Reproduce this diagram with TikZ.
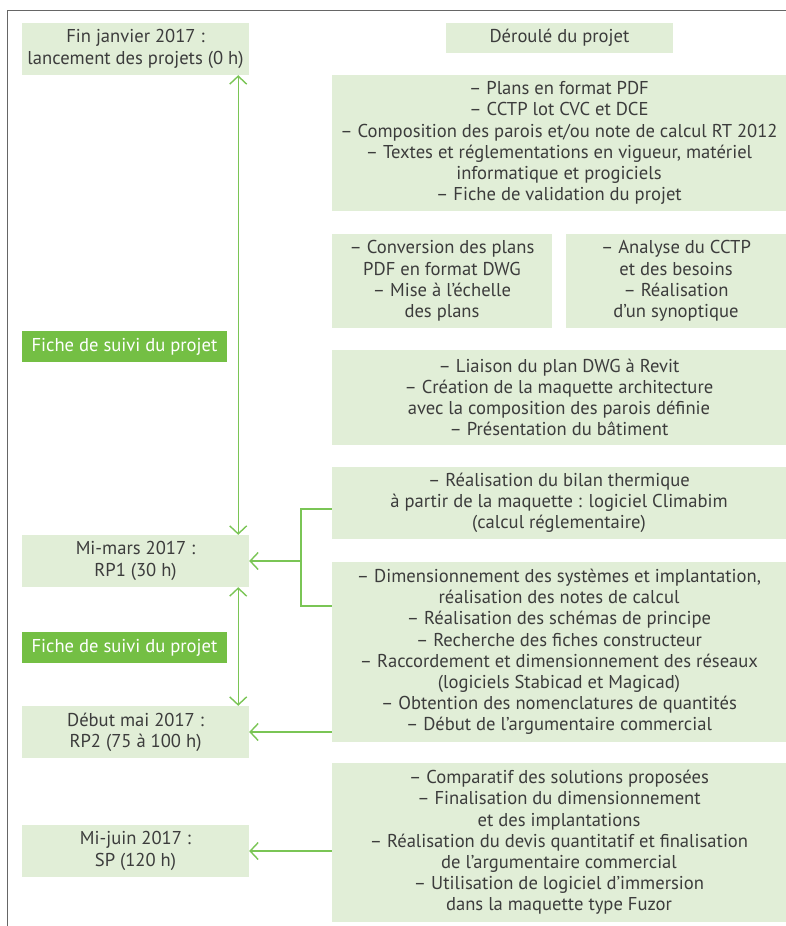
\documentclass[tikz,border=0pt]{standalone}
\usepackage{fontspec}
\setmainfont{PT Sans}
\usepackage{tikz}
\usetikzlibrary{arrows.meta,positioning,calc}
\definecolor{paleg}{HTML}{E1EED7}
\definecolor{leafg}{HTML}{74BF44}
\definecolor{lineg}{HTML}{7AC555}
\definecolor{inkg}{HTML}{3C3C3C}

\begin{document}
\begin{tikzpicture}[x=1pt,y=-1pt,font=\fontsize{18.6}{21.2}\selectfont,text=inkg,
  phase/.style={fill=paleg,inner sep=0pt,minimum width=227pt,minimum height=52pt,align=center},
  fiche/.style={fill=leafg,text=white,inner sep=0pt,minimum width=205pt,minimum height=31pt},
  task/.style={fill=paleg,inner sep=0pt,minimum width=454pt,align=center},
  ln/.style={draw=lineg,line width=1.4pt},
  arr/.style={ln,-{Straight Barb[length=8pt,width=17pt]}},
  both/.style={ln,{Straight Barb[length=8pt,width=17pt]}-{Straight Barb[length=8pt,width=17pt]}}]
\useasboundingbox (0,0) rectangle (786,926);
\draw[gray!80!black,line width=0.9pt] (786,10) -| (7,926);
% jalons
\node[phase] (jan) at (135.5,49) {Fin janvier 2017 :\\lancement des projets (0 h)};
\node[fiche] (suivi1) at (124.5,346.5) {Fiche de suivi du projet};
\node[phase] (mars) at (135.5,561) {Mi-mars 2017 :\\RP1 (30 h)};
\node[fiche] (suivi2) at (124.5,647.5) {Fiche de suivi du projet};
\node[phase] (mai) at (135.5,732) {Début mai 2017 :\\RP2 (75 à 100 h)};
\node[phase] (juin) at (135.5,851) {Mi-juin 2017 :\\SP (120 h)};
% taches
\node[task,minimum width=227pt,minimum height=30pt] (titre) at (559.5,38) {Déroulé du projet};
\node[task,minimum height=136pt] (donnees) at (559,143) {-- Plans en format PDF\\-- CCTP lot CVC et DCE\\-- Composition des parois et/ou note de calcul RT 2012\\-- Textes et réglementations en vigueur, matériel\\informatique et progiciels\\-- Fiche de validation du projet};
\node[task,minimum width=220pt,minimum height=94pt] (conv) at (442,281) {-- Conversion des plans\\PDF en format DWG\\-- Mise à l’échelle\\des plans};
\node[task,minimum width=220pt,minimum height=94pt] (cctp) at (676,281) {-- Analyse du CCTP\\et des besoins\\-- Réalisation\\d’un synoptique};
\node[task,minimum height=95pt] (revit) at (559,397.5) {-- Liaison du plan DWG à Revit\\-- Création de la maquette architecture\\avec la composition des parois définie\\-- Présentation du bâtiment};
\node[task,minimum height=72pt] (bilan) at (559,503) {-- Réalisation du bilan thermique\\à partir de la maquette : logiciel Climabim\\(calcul réglementaire)};
\node[task,minimum height=180pt] (dim) at (559,652) {-- Dimensionnement des systèmes et implantation,\\réalisation des notes de calcul\\-- Réalisation des schémas de principe\\-- Recherche des fiches constructeur\\-- Raccordement et dimensionnement des réseaux\\(logiciels Stabicad et Magicad)\\-- Obtention des nomenclatures de quantités\\-- Début de l’argumentaire commercial};
\node[task,minimum height=159pt] (comp) at (559,842.5) {-- Comparatif des solutions proposées\\-- Finalisation du dimensionnement\\et des implantations\\-- Réalisation du devis quantitatif et finalisation\\de l’argumentaire commercial\\-- Utilisation de logiciel d’immersion\\dans la maquette type Fuzor};
% liaisons
\draw[both] ([xshift=-11pt]jan.south east) -- ([xshift=-11pt]mars.north east);
\draw[both] ([xshift=-11pt]mars.south east) -- ([xshift=-11pt]mai.north east);
\coordinate (fork) at (301,561);
\draw[ln] ([yshift=-6pt]bilan.west) -| (fork);
\draw[ln] (fork) |- ([yshift=46pt]dim.west);
\draw[arr] (fork) -- (mars.east);
\draw[arr] (dim.west |- mai) -- (mai.east);
\draw[arr] (comp.west |- juin) -- (juin.east);
\end{tikzpicture}
\end{document}
